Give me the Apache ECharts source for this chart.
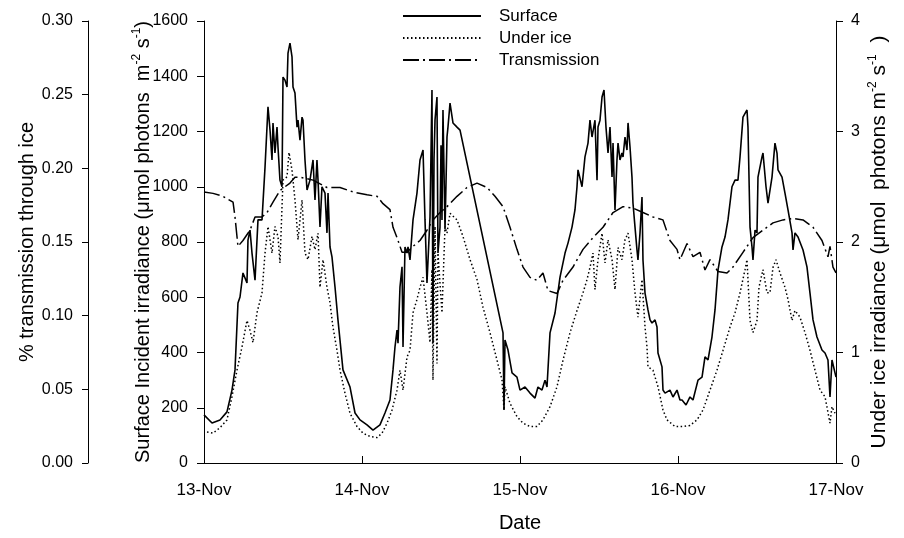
<!DOCTYPE html>
<html>
<head>
<meta charset="utf-8">
<script src="https://cdn.jsdelivr.net/npm/echarts/dist/echarts.min.js"></script>
<style>
html,body{margin:0;padding:0;background:#fff;}
#chart{width:904px;height:538px;}
</style>
</head>
<body>
<div id="chart"></div>
<script>
// x values are hours after 13-Nov 00:00
const dateLabels = ['13-Nov', '14-Nov', '15-Nov', '16-Nov', '17-Nov'];
const seriesNames = ['Surface', 'Under ice', 'Transmission'];

// Surface incident irradiance (µmol photons m-2 s-1)
const surfaceData = [
[0,174],[1.22,145],[2.43,156],[3.49,185],[4.25,264],[4.71,337],[5.16,579],[5.47,601],[5.92,688],[6.53,652],[6.68,807],[6.99,843],[7.29,760],[7.75,662],[8.20,880],[8.81,880],[9.27,1071],[9.72,1289],[10.03,1205],[10.33,1097],[10.48,1231],[10.78,1122],[11.09,1216],[11.24,1144],[11.54,1024],[11.85,1000],[12.00,1397],[12.30,1386],[12.61,1361],[12.76,1484],[13.06,1520],[13.37,1470],[13.52,1361],[13.82,1339],[14.13,1216],[14.28,1241],[14.58,1169],[14.89,1252],[15.04,1241],[15.34,1097],[15.65,988],[16.10,1024],[16.56,1097],[16.86,952],[17.16,1097],[17.32,1024],[17.62,854],[17.92,1000],[18.38,977],[18.68,833],[18.84,977],[19.14,782],[19.44,746],[19.90,637],[20.35,518],[21.11,337],[22.18,275],[22.94,181],[23.70,156],[24.76,138],[25.67,119],[26.73,138],[27.49,181],[28.25,228],[28.71,337],[29.01,420],[29.32,481],[29.47,434],[29.77,637],[30.08,710],[30.23,420],[30.53,782],[30.84,760],[30.99,782],[31.29,735],[31.75,880],[32.35,977],[32.81,1097],[33.27,1133],[33.57,880],[33.87,652],[34.33,890],[34.63,1350],[34.78,434],[34.94,1100],[35.09,1241],[35.39,1325],[35.54,760],[35.85,854],[36.00,1150],[36.15,880],[36.30,1278],[36.61,845],[36.91,1180],[37.06,1216],[37.37,1303],[37.82,1231],[38.43,1216],[38.89,1205],[45.42,471],[45.57,192],[45.72,445],[46.18,409],[46.79,326],[47.54,311],[48.00,264],[48.76,275],[49.52,253],[50.28,235],[50.73,275],[51.34,264],[51.80,300],[52.10,275],[52.56,471],[53.32,543],[54.08,673],[54.84,760],[55.29,796],[55.90,854],[56.35,916],[56.66,1000],[56.81,1061],[57.42,1000],[57.87,1108],[58.33,1158],[58.63,1241],[58.94,1180],[59.39,1241],[59.70,1024],[59.85,1216],[60.15,1241],[60.46,1325],[60.76,1350],[61.06,1216],[61.37,1122],[61.67,1216],[61.98,1035],[62.13,1158],[62.43,916],[62.73,1097],[62.89,1158],[63.19,1097],[63.49,1122],[63.65,1108],[63.95,1180],[64.25,1133],[64.41,1231],[64.71,1144],[65.01,1035],[65.16,941],[65.47,854],[65.77,771],[65.92,735],[66.23,833],[66.53,963],[66.68,735],[66.99,615],[67.44,554],[67.75,518],[68.05,507],[68.51,518],[68.81,492],[68.96,398],[69.57,348],[69.72,264],[70.03,253],[70.33,253],[70.78,264],[71.24,239],[71.85,264],[72.30,228],[72.61,228],[73.22,210],[73.82,239],[74.28,228],[75.04,300],[75.65,311],[76.10,384],[76.56,373],[77.16,456],[77.62,554],[78.08,699],[78.68,782],[79.14,818],[79.59,880],[80.20,1000],[80.66,1024],[81.11,1024],[81.42,1108],[81.87,1252],[82.48,1278],[82.63,1216],[82.94,854],[83.24,782],[83.39,735],[83.70,843],[84.00,833],[84.15,1035],[84.76,1108],[84.91,1122],[85.37,1000],[85.67,941],[86.28,1035],[86.73,1158],[87.04,1122],[87.19,1061],[87.80,1035],[88.25,977],[88.71,916],[89.32,833],[89.47,771],[89.77,833],[90.23,818],[90.99,771],[91.59,710],[92.05,615],[92.51,518],[93.11,456],[93.87,409],[94.33,398],[94.78,373],[95.09,239],[95.39,373],[95.54,373],[96,311]
];

// Under ice irradiance (µmol photons m-2 s-1)
const underIceData = [
[0.46,0.28],[1.37,0.27],[2.43,0.32],[3.49,0.39],[4.25,0.60],[5.01,0.84],[5.77,1.05],[6.53,1.29],[6.99,1.20],[7.44,1.09],[8.05,1.36],[8.81,1.54],[9.27,1.90],[9.72,2.14],[10.33,1.90],[10.78,2.14],[11.24,2.05],[11.54,1.81],[11.85,2.32],[12.00,2.56],[12.61,2.59],[12.91,2.81],[13.37,2.65],[13.82,2.38],[14.28,2.02],[14.89,2.38],[15.34,1.90],[15.80,1.84],[16.41,2.05],[16.86,1.93],[17.32,2.08],[17.62,1.59],[18.08,1.84],[18.68,1.59],[19.14,1.45],[19.59,1.23],[20.20,1.02],[20.66,0.84],[21.42,0.63],[22.18,0.45],[23.24,0.33],[24.15,0.27],[25.22,0.24],[26.28,0.23],[27.04,0.27],[27.80,0.36],[28.56,0.48],[29.32,0.66],[29.77,0.84],[30.23,0.66],[30.84,0.96],[31.29,1.02],[31.75,1.36],[32.35,1.48],[32.81,1.59],[33.27,1.68],[33.87,1.36],[34.33,1.09],[34.63,1.75],[34.78,0.75],[35.09,2.14],[35.39,0.90],[35.54,1.90],[36.15,1.36],[36.61,2.14],[36.91,2.08],[37.06,2.14],[37.37,2.26],[38.43,2.20],[39.34,2.05],[40.41,1.84],[41.47,1.66],[42.38,1.41],[43.44,1.18],[44.51,0.93],[45.27,0.75],[45.57,0.48],[45.72,0.69],[46.48,0.54],[47.54,0.42],[48.46,0.36],[49.52,0.33],[50.58,0.33],[51.49,0.39],[52.56,0.51],[53.62,0.69],[54.53,0.93],[55.60,1.18],[56.66,1.38],[57.57,1.54],[58.18,1.66],[58.63,1.77],[59.09,1.90],[59.39,1.57],[59.85,1.84],[60.46,2.08],[60.91,1.81],[61.37,2.02],[61.98,1.84],[62.43,1.57],[62.89,1.95],[63.49,1.84],[63.95,2.02],[64.41,2.08],[65.01,1.84],[65.47,1.54],[65.92,1.32],[66.53,1.66],[66.99,1.23],[67.29,1.05],[67.44,0.87],[68.20,0.84],[68.96,0.69],[69.72,0.48],[70.33,0.39],[71.54,0.33],[72.76,0.33],[73.82,0.34],[74.89,0.39],[75.80,0.48],[76.86,0.66],[77.92,0.84],[78.84,1.02],[79.90,1.23],[80.66,1.36],[81.42,1.54],[82.18,1.75],[82.48,1.84],[82.94,1.29],[83.39,1.18],[84.00,1.29],[84.30,1.59],[84.91,1.75],[85.52,1.54],[85.97,1.54],[86.43,1.77],[86.89,1.84],[87.49,1.72],[88.25,1.59],[88.71,1.48],[89.32,1.29],[89.77,1.38],[90.53,1.32],[91.29,1.18],[92.05,1.02],[92.81,0.84],[93.57,0.66],[94.33,0.60],[95.09,0.36],[95.39,0.51],[95.85,0.45]
];

// % transmission through ice
const transmissionData = [
[0,0.184],[1.37,0.183],[2.89,0.181],[4.41,0.177],[4.71,0.167],[5.16,0.147],[5.92,0.151],[6.99,0.158],[7.75,0.167],[8.81,0.167],[9.57,0.170],[10.48,0.177],[11.54,0.185],[13.06,0.190],[13.82,0.194],[14.58,0.194],[16.56,0.192],[18.68,0.187],[20.66,0.187],[22.63,0.184],[24.76,0.182],[26.28,0.181],[27.19,0.176],[28.25,0.172],[28.71,0.160],[29.32,0.153],[30.08,0.143],[30.84,0.143],[31.75,0.147],[32.81,0.151],[33.87,0.158],[34.78,0.165],[35.85,0.170],[36.91,0.174],[38.43,0.181],[39.95,0.187],[41.47,0.190],[42.99,0.187],[44.20,0.181],[45.42,0.174],[46.48,0.160],[47.54,0.145],[48.46,0.133],[49.52,0.126],[50.58,0.124],[51.49,0.129],[52.25,0.117],[53.62,0.115],[54.53,0.124],[56.05,0.133],[57.57,0.145],[59.09,0.153],[60.61,0.160],[62.13,0.170],[63.65,0.174],[65.16,0.173],[66.68,0.170],[68.20,0.167],[69.72,0.165],[70.78,0.151],[71.85,0.145],[72.30,0.138],[73.37,0.149],[74.28,0.140],[75.34,0.143],[76.10,0.131],[76.86,0.138],[78.08,0.130],[79.44,0.129],[80.35,0.133],[81.87,0.143],[83.39,0.153],[84.91,0.158],[86.43,0.163],[87.95,0.165],[89.47,0.166],[90.99,0.165],[92.51,0.160],[93.87,0.151],[94.78,0.140],[95.09,0.147],[95.54,0.133],[96,0.129]
];

const FONT = '"Liberation Sans", Arial, sans-serif';
const chart = echarts.init(document.getElementById('chart'), null, {renderer: 'canvas'});

const supRich = {
  sup: {fontSize: 12, fontFamily: FONT, color: '#000', verticalAlign: 'top', lineHeight: 12, padding: [0, 0, 8, 0]}
};
const plain = v => String(v);

chart.setOption({
  animation: false,
  backgroundColor: '#fff',
  textStyle: {fontFamily: FONT, color: '#000'},
  grid: {left: 204, right: 68, top: 21, bottom: 75, containLabel: false},
  legend: {
    orient: 'vertical',
    left: 397,
    top: 2,
    itemWidth: 78,
    itemHeight: 14,
    itemGap: 4,
    data: seriesNames,
    itemStyle: {opacity: 0},
    textStyle: {fontSize: 17, fontFamily: FONT, color: '#000', padding: [0, 0, 0, 13], lineHeight: 18}
  },
  xAxis: {
    type: 'value', min: 0, max: 96, interval: 24,
    name: 'Date', nameLocation: 'middle', nameGap: 50, nameMoveOverlap: false,
    nameTextStyle: {fontSize: 20, fontFamily: FONT, color: '#000'},
    axisLine: {lineStyle: {color: '#000', width: 1}},
    axisTick: {inside: true, length: 7, lineStyle: {color: '#000'}},
    axisLabel: {fontSize: 17, color: '#000', margin: 19, formatter: v => dateLabels[Math.round(v / 24)]},
    splitLine: {show: false}
  },
  yAxis: [
    {
      type: 'value', position: 'left', min: 0, max: 1600, interval: 200,
      name: 'Surface Incident irradiance (μmol photons  m{sup|-2} s{sup|-1})',
      nameLocation: 'middle', nameRotate: 90, nameGap: 49, nameMoveOverlap: false,
      nameTextStyle: {fontSize: 20, fontFamily: FONT, color: '#000', lineHeight: 24, rich: supRich},
      axisLine: {show: true, lineStyle: {color: '#000', width: 1}},
      axisTick: {show: true, length: 7, lineStyle: {color: '#000'}},
      axisLabel: {fontSize: 16, color: '#000', margin: 16, formatter: plain},
      splitLine: {show: false}
    },
    {
      type: 'value', position: 'left', offset: 116, min: 0, max: 0.30, interval: 0.05,
      name: '% transmission through ice',
      nameLocation: 'middle', nameRotate: 90, nameGap: 51, nameMoveOverlap: false,
      nameTextStyle: {fontSize: 20, fontFamily: FONT, color: '#000'},
      axisLine: {show: true, lineStyle: {color: '#000', width: 1}},
      axisTick: {show: true, length: 6, lineStyle: {color: '#000'}},
      axisLabel: {fontSize: 16, color: '#000', margin: 15, formatter: v => v.toFixed(2)},
      splitLine: {show: false}
    },
    {
      type: 'value', position: 'right', min: 0, max: 4, interval: 1,
      name: 'Under ice irradiance (μmol  photons m{sup|-2} s{sup|-1}  )',
      nameLocation: 'middle', nameRotate: 90, nameGap: 31, nameMoveOverlap: false,
      nameTextStyle: {fontSize: 21, fontFamily: FONT, color: '#000', lineHeight: 24, rich: supRich},
      axisLine: {show: true, lineStyle: {color: '#000', width: 1}},
      axisTick: {show: true, length: 7, lineStyle: {color: '#000'}},
      axisLabel: {fontSize: 16, color: '#000', margin: 15, formatter: plain},
      splitLine: {show: false}
    }
  ],
  series: [
    {
      name: seriesNames[0], type: 'line', yAxisIndex: 0, data: surfaceData,
      symbol: 'none', lineStyle: {color: '#000', width: 1.6, type: 'solid'}, itemStyle: {color: '#000'}, z: 3
    },
    {
      name: seriesNames[1], type: 'line', yAxisIndex: 2, data: underIceData,
      symbol: 'none', lineStyle: {color: '#000', width: 1.5, type: [1.5, 2.5]}, itemStyle: {color: '#000'}, z: 2
    },
    {
      name: seriesNames[2], type: 'line', yAxisIndex: 1, data: transmissionData,
      symbol: 'none', lineStyle: {color: '#000', width: 1.5, type: [16, 4, 2, 4]}, itemStyle: {color: '#000'}, z: 2
    }
  ]
});
</script>
</body>
</html>
